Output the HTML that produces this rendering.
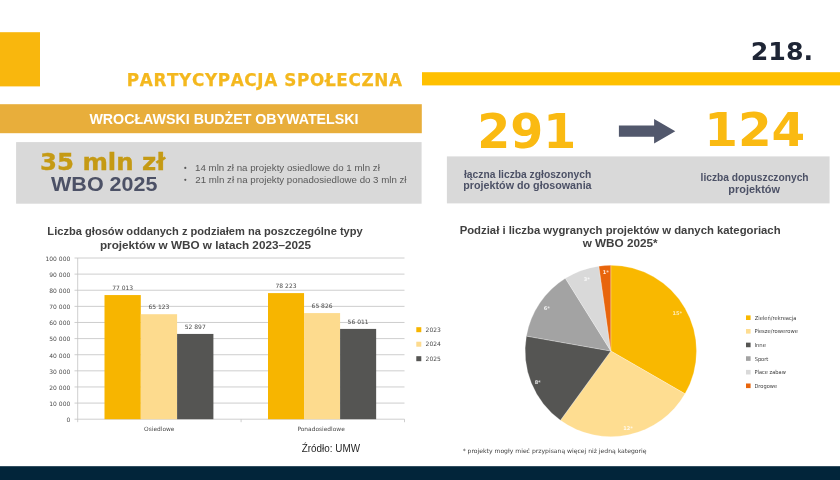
<!DOCTYPE html>
<html lang="pl"><head><meta charset="utf-8"><title>Partycypacja społeczna – Wrocławski Budżet Obywatelski</title>
<style>
html,body{margin:0;padding:0;background:#fff;}
body{width:840px;height:480px;overflow:hidden;}
svg{display:block;}
.c{font-family:"Liberation Sans", sans-serif;}
.v{font-family:"DejaVu Sans", sans-serif;}
.b{font-weight:bold;}
</style></head><body>
<svg width="840" height="480" viewBox="0 0 840 480">
<rect x="0" y="32.2" width="40" height="54.2" fill="#F9B70D" />
<rect x="422" y="72.2" width="418" height="13.2" fill="#FFC000" />
<text x="126.82" y="86.3" class="v b" font-size="17" fill="#F4B81E" textLength="275.79" lengthAdjust="spacingAndGlyphs" stroke="#F4B81E" stroke-width="0.25" style="letter-spacing:0.65px;font-kerning:none">PARTYCYPACJA SPOŁECZNA</text>
<text x="750.76" y="60.3" class="v b" font-size="24" fill="#1E2535" textLength="62.34" lengthAdjust="spacingAndGlyphs" >218.</text>
<rect x="0" y="104.2" width="421.8" height="29" fill="#E8AE3B" />
<text x="89.40" y="124.1" class="c b" font-size="14.9" fill="#FFFFFF" textLength="269.11" lengthAdjust="spacingAndGlyphs" >WROCŁAWSKI BUDŻET OBYWATELSKI</text>
<rect x="16.1" y="142.1" width="405.5" height="61.6" fill="#D9D9D9" />
<text x="39.92" y="169.7" class="v b" font-size="23.2" fill="#C59A14" textLength="125.50" lengthAdjust="spacingAndGlyphs" stroke="#C59A14" stroke-width="0.35">35 mln zł</text>
<text x="51.10" y="190.9" class="c b" font-size="20" fill="#4C5166" textLength="106.27" lengthAdjust="spacingAndGlyphs" >WBO 2025</text>
<circle cx="185.3" cy="167.9" r="1.1" fill="#595959"/>
<circle cx="185.3" cy="179.8" r="1.1" fill="#595959"/>
<text x="195.03" y="171.4" class="c" font-size="9.5" fill="#595959" textLength="184.86" lengthAdjust="spacingAndGlyphs" >14 mln zł na projekty osiedlowe do 1 mln zł</text>
<text x="195.29" y="183.3" class="c" font-size="9.5" fill="#595959" textLength="211.23" lengthAdjust="spacingAndGlyphs" >21 mln zł na projekty ponadosiedlowe do 3 mln zł</text>
<text x="477.34" y="147.5" class="v b" font-size="47.3" fill="#FABA12" textLength="99.00" lengthAdjust="spacingAndGlyphs" >291</text>
<text x="704.21" y="146.1" class="v b" font-size="46.3" fill="#FABA12" textLength="101.13" lengthAdjust="spacingAndGlyphs" >124</text>
<path d="M618.9 125.6 H654.1 V118.9 L675.3 131.2 L654.1 143.6 V136.8 H618.9 Z" fill="#52586C"/>
<rect x="446.9" y="156.4" width="382.7" height="47" fill="#D9D9D9" />
<text x="464.00" y="177.9" class="c b" font-size="11" fill="#4C5166" textLength="127.24" lengthAdjust="spacingAndGlyphs" >łączna liczba zgłoszonych</text>
<text x="463.27" y="189.3" class="c b" font-size="11" fill="#4C5166" textLength="128.34" lengthAdjust="spacingAndGlyphs" >projektów do głosowania</text>
<text x="700.60" y="181.3" class="c b" font-size="11" fill="#4C5166" textLength="107.99" lengthAdjust="spacingAndGlyphs" >liczba dopuszczonych</text>
<text x="728.36" y="192.5" class="c b" font-size="11" fill="#4C5166" textLength="51.60" lengthAdjust="spacingAndGlyphs" >projektów</text>
<text x="47.37" y="234.5" class="c b" font-size="11.4" fill="#404040" textLength="315.40" lengthAdjust="spacingAndGlyphs" >Liczba głosów oddanych z podziałem na poszczególne typy</text>
<text x="99.93" y="249.1" class="c b" font-size="11.4" fill="#404040" textLength="211.14" lengthAdjust="spacingAndGlyphs" >projektów w WBO w latach 2023–2025</text>
<g stroke="#C2C2C2" stroke-width="0.8" fill="none">
<path d="M74.50 419.20 H404.5"/>
<path d="M74.50 403.08 H404.5"/>
<path d="M74.50 386.96 H404.5"/>
<path d="M74.50 370.84 H404.5"/>
<path d="M74.50 354.72 H404.5"/>
<path d="M74.50 338.60 H404.5"/>
<path d="M74.50 322.48 H404.5"/>
<path d="M74.50 306.36 H404.5"/>
<path d="M74.50 290.24 H404.5"/>
<path d="M74.50 274.12 H404.5"/>
<path d="M74.50 258.00 H404.5"/>
<path d="M77.7 258.0 V422.2"/>
<path d="M241.10 419.2 v3"/>
<path d="M404.5 419.2 v3"/>
</g>
<text x="70.3" y="422.00" class="v" font-size="6" fill="#4A4A4A" text-anchor="end" >0</text>
<text x="70.3" y="405.88" class="v" font-size="6" fill="#4A4A4A" text-anchor="end" >10 000</text>
<text x="70.3" y="389.76" class="v" font-size="6" fill="#4A4A4A" text-anchor="end" >20 000</text>
<text x="70.3" y="373.64" class="v" font-size="6" fill="#4A4A4A" text-anchor="end" >30 000</text>
<text x="70.3" y="357.52" class="v" font-size="6" fill="#4A4A4A" text-anchor="end" >40 000</text>
<text x="70.3" y="341.40" class="v" font-size="6" fill="#4A4A4A" text-anchor="end" >50 000</text>
<text x="70.3" y="325.28" class="v" font-size="6" fill="#4A4A4A" text-anchor="end" >60 000</text>
<text x="70.3" y="309.16" class="v" font-size="6" fill="#4A4A4A" text-anchor="end" >70 000</text>
<text x="70.3" y="293.04" class="v" font-size="6" fill="#4A4A4A" text-anchor="end" >80 000</text>
<text x="70.3" y="276.92" class="v" font-size="6" fill="#4A4A4A" text-anchor="end" >90 000</text>
<text x="70.3" y="260.80" class="v" font-size="6" fill="#4A4A4A" text-anchor="end" >100 000</text>
<rect x="104.50" y="295.06" width="36.30" height="124.14" fill="#F7B500" />
<text x="122.65" y="289.76" class="v" font-size="6" fill="#4A4A4A" text-anchor="middle" >77 013</text>
<rect x="140.80" y="314.22" width="36.30" height="104.98" fill="#FDDB8E" />
<text x="158.95" y="308.92" class="v" font-size="6" fill="#4A4A4A" text-anchor="middle" >65 123</text>
<rect x="177.10" y="333.93" width="36.30" height="85.27" fill="#555553" />
<text x="195.25" y="328.63" class="v" font-size="6" fill="#4A4A4A" text-anchor="middle" >52 897</text>
<rect x="268.00" y="293.10" width="36.05" height="126.10" fill="#F7B500" />
<text x="286.02" y="287.80" class="v" font-size="6" fill="#4A4A4A" text-anchor="middle" >78 223</text>
<rect x="304.05" y="313.09" width="36.05" height="106.11" fill="#FDDB8E" />
<text x="322.07" y="307.79" class="v" font-size="6" fill="#4A4A4A" text-anchor="middle" >65 826</text>
<rect x="340.10" y="328.91" width="36.05" height="90.29" fill="#555553" />
<text x="358.12" y="323.61" class="v" font-size="6" fill="#4A4A4A" text-anchor="middle" >56 011</text>
<text x="159.3" y="431.2" class="v" font-size="5.9" fill="#4A4A4A" text-anchor="middle" >Osiedlowe</text>
<text x="321.1" y="431.2" class="v" font-size="5.9" fill="#4A4A4A" text-anchor="middle" >Ponadosiedlowe</text>
<rect x="416.3" y="327.20" width="5" height="5" fill="#F7B500" />
<text x="425.6" y="331.90" class="v" font-size="6" fill="#4A4A4A" text-anchor="start" >2023</text>
<rect x="416.3" y="341.70" width="5" height="5" fill="#FDDB8E" />
<text x="425.6" y="346.40" class="v" font-size="6" fill="#4A4A4A" text-anchor="start" >2024</text>
<rect x="416.3" y="356.20" width="5" height="5" fill="#555553" />
<text x="425.6" y="360.90" class="v" font-size="6" fill="#4A4A4A" text-anchor="start" >2025</text>
<text x="301.76" y="451.9" class="c" font-size="10.2" fill="#262626" textLength="58.24" lengthAdjust="spacingAndGlyphs" >Źródło: UMW</text>
<text x="459.65" y="233.5" class="c b" font-size="11.4" fill="#404040" textLength="320.92" lengthAdjust="spacingAndGlyphs" >Podział i liczba wygranych projektów w danych kategoriach</text>
<text x="582.70" y="247.0" class="c b" font-size="11.4" fill="#404040" textLength="74.86" lengthAdjust="spacingAndGlyphs" >w WBO 2025*</text>
<path d="M610.8 351.0 L610.80 265.30 A85.7 85.7 0 0 1 685.02 393.85 Z" fill="#F9B800" stroke="#FFFFFF" stroke-width="0.25" stroke-linejoin="round"/>
<path d="M610.8 351.0 L685.02 393.85 A85.7 85.7 0 0 1 560.43 420.33 Z" fill="#FEDD91" stroke="#FFFFFF" stroke-width="0.25" stroke-linejoin="round"/>
<path d="M610.8 351.0 L560.43 420.33 A85.7 85.7 0 0 1 526.40 336.12 Z" fill="#555553" stroke="#FFFFFF" stroke-width="0.25" stroke-linejoin="round"/>
<path d="M610.8 351.0 L526.40 336.12 A85.7 85.7 0 0 1 565.39 278.32 Z" fill="#A3A3A3" stroke="#FFFFFF" stroke-width="0.25" stroke-linejoin="round"/>
<path d="M610.8 351.0 L565.39 278.32 A85.7 85.7 0 0 1 598.87 266.13 Z" fill="#D9D9D9" stroke="#FFFFFF" stroke-width="0.25" stroke-linejoin="round"/>
<path d="M610.8 351.0 L598.87 266.13 A85.7 85.7 0 0 1 610.80 265.30 Z" fill="#E8650C" stroke="#FFFFFF" stroke-width="0.25" stroke-linejoin="round"/>
<text x="677.4" y="314.6" class="v b" font-size="5" fill="#FFF3D0" text-anchor="middle" fill-opacity="0.85">15*</text>
<text x="628" y="430" class="v b" font-size="5" fill="#FFFFFF" text-anchor="middle" fill-opacity="0.85">12*</text>
<text x="537.7" y="384.0" class="v b" font-size="5" fill="#FFFFFF" text-anchor="middle" fill-opacity="0.85">8*</text>
<text x="546.9" y="309.7" class="v b" font-size="5" fill="#FFFFFF" text-anchor="middle" fill-opacity="0.85">6*</text>
<text x="586.9" y="280.8" class="v b" font-size="5" fill="#FFFFFF" text-anchor="middle" fill-opacity="0.85">3*</text>
<text x="605.9" y="274.1" class="v b" font-size="5" fill="#FFFFFF" text-anchor="middle" fill-opacity="0.85">1*</text>
<rect x="746" y="315.40" width="4.6" height="4.6" fill="#F9B800" />
<text x="754.67" y="319.70" class="v" font-size="5.5" fill="#404040" textLength="41.78" lengthAdjust="spacingAndGlyphs" >Zieleń/rekreacja</text>
<rect x="746" y="329.02" width="4.6" height="4.6" fill="#FEDD91" />
<text x="754.43" y="333.32" class="v" font-size="5.5" fill="#404040" textLength="43.43" lengthAdjust="spacingAndGlyphs" >Piesze/rowerowe</text>
<rect x="746" y="342.64" width="4.6" height="4.6" fill="#555553" />
<text x="754.42" y="346.94" class="v" font-size="5.5" fill="#404040" textLength="11.61" lengthAdjust="spacingAndGlyphs" >Inne</text>
<rect x="746" y="356.26" width="4.6" height="4.6" fill="#A3A3A3" />
<text x="754.67" y="360.56" class="v" font-size="5.5" fill="#404040" textLength="13.65" lengthAdjust="spacingAndGlyphs" >Sport</text>
<rect x="746" y="369.88" width="4.6" height="4.6" fill="#D9D9D9" />
<text x="754.44" y="374.18" class="v" font-size="5.5" fill="#404040" textLength="31.39" lengthAdjust="spacingAndGlyphs" >Place zabaw</text>
<rect x="746" y="383.50" width="4.6" height="4.6" fill="#E8650C" />
<text x="754.44" y="387.80" class="v" font-size="5.5" fill="#404040" textLength="22.68" lengthAdjust="spacingAndGlyphs" >Drogowe</text>
<text x="462.65" y="452.6" class="v" font-size="6" fill="#404040" textLength="183.88" lengthAdjust="spacingAndGlyphs" >* projekty mogły mieć przypisaną więcej niż jedną kategorię</text>
<rect x="0" y="466.2" width="840" height="13.8" fill="#02253A" />
</svg></body></html>
